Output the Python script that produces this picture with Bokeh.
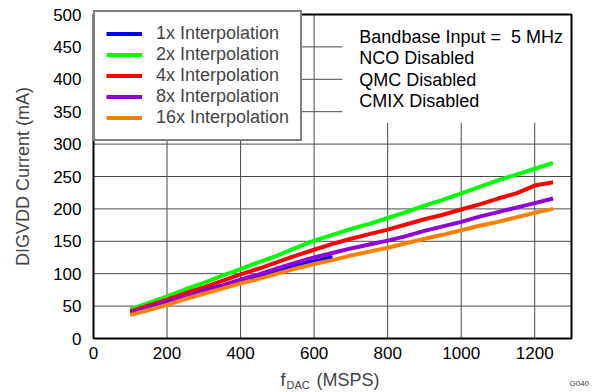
import math
from bokeh.plotting import figure
from bokeh.models import Label, Legend, LegendItem, Range1d
from bokeh.core.properties import value
from bokeh.embed import file_html
from bokeh.resources import INLINE

# ---- data ----
freq = [100, 150, 200, 250, 300, 350, 400, 450, 500, 550, 600, 650, 700, 750,
        800, 850, 900, 950, 1000, 1050, 1100, 1150, 1200, 1250]
freq_1x = [100, 150, 200, 250, 300, 350, 400, 450, 500, 550, 600, 650]
cur_1x = [40, 48, 56, 64, 72, 80, 89, 97, 105, 112, 119, 126]
cur_2x = [45, 55, 65, 76, 86, 97, 107, 118, 128, 140, 151, 160, 169, 177,
          186, 195, 205, 214, 224, 234, 244, 253, 262, 271]
cur_4x = [42, 51, 60, 70, 79, 89, 99, 108, 118, 128, 137, 146, 154, 161,
          168, 176, 184, 191, 199, 207, 216, 224, 236, 241]
cur_8x = [40, 48, 57, 65, 74, 82, 91, 99, 108, 117, 125, 132, 139, 145,
          151, 158, 166, 173, 180, 188, 195, 202, 209, 216]
cur_16x = [36, 44, 52, 61, 69, 77, 85, 92, 100, 108, 115, 121, 128, 134,
           140, 147, 154, 160, 167, 174, 180, 187, 194, 200]
series_names = ["1x Interpolation", "2x Interpolation", "4x Interpolation",
                "8x Interpolation", "16x Interpolation"]
series_colors = ["#0000FF", "#00FF00", "#FF0000", "#8E00D6", "#FF8000"]
x_ticks = [0, 200, 400, 600, 800, 1000, 1200]
y_ticks = [0, 50, 100, 150, 200, 250, 300, 350, 400, 450, 500]
x_tick_labels = [str(t) for t in x_ticks]
y_tick_labels = [str(t) for t in y_ticks]
notes = ["Bandbase Input =\u00a0 5 MHz", "NCO Disabled", "QMC Disabled", "CMIX Disabled"]
x_max, y_max = 1300, 500

# ---- layout (pixels) ----
W, H = 597, 392
FL, FR, FT, FB = 93, 571, 14, 338      # plotting box inside the canvas
FONT = "Liberation Sans"
FS = "18px"
TFS = "17px"
kx = (FR - FL) / x_max
ky = (FB - FT) / y_max

p = figure(width=W, height=H, output_backend="svg", toolbar_location=None,
           x_axis_location=None, y_axis_location=None,
           x_range=Range1d(-FL / kx, x_max + (W - FR) / kx),
           y_range=Range1d(-(H - FB) / ky, y_max + FT / ky),
           min_border=0)
p.outline_line_color = None
p.background_fill_color = "white"
p.border_fill_color = "white"
p.grid.visible = False

# grid lines at tick values
p.segment(x0=x_ticks, y0=[0] * len(x_ticks), x1=x_ticks, y1=[y_max] * len(x_ticks),
          line_color="#4a4a4a", line_width=1)
p.segment(x0=[0] * len(y_ticks), y0=y_ticks, x1=[x_max] * len(y_ticks), y1=y_ticks,
          line_color="#4a4a4a", line_width=1)

# white note box covering the grid
p.quad(left=[677], right=[x_max], bottom=[333], top=[y_max],
       fill_color="white", line_color=None)

xs = [freq_1x, freq, freq, freq, freq]
ys = [cur_1x, cur_2x, cur_4x, cur_8x, cur_16x]
renderers = []
for xv, yv, c in zip(xs, ys, series_colors):
    r = p.line(xv, yv, line_color=c, line_width=4)
    renderers.append(r)

# plot box outline
p.quad(left=[0], right=[x_max], bottom=[0], top=[y_max],
       fill_color=None, line_color="black", line_width=2)

# tick labels
p.text(x=x_ticks, y=[-(352 - FB) / ky] * len(x_ticks), text=x_tick_labels,
       text_font=value(FONT), text_font_size=TFS, text_align="center",
       text_baseline="middle", text_color="black")
p.text(x=[-(FL - 81) / kx] * len(y_ticks), y=y_ticks, text=y_tick_labels,
       text_font=value(FONT), text_font_size=TFS, text_align="right",
       text_baseline="middle", text_color="black")

# legend
PAD, ROW = 11, 21
LH = 2 * PAD + ROW * len(series_names)
legend = Legend(items=[LegendItem(label=n, renderers=[r]) for n, r in zip(series_names, renderers)],
                location=(FL, H - FT - LH), margin=0, padding=PAD, spacing=0,
                glyph_width=36, glyph_height=ROW, label_height=ROW, label_standoff=14,
                label_text_font=FONT, label_text_font_size=FS,
                border_line_color="black", border_line_width=2,
                background_fill_alpha=1)
p.add_layout(legend)

for i, t in enumerate(notes):
    p.add_layout(Label(x=723, y=466 - 33.2 * i, text=t, text_font=FONT,
                       text_font_size=FS, text_baseline="middle", text_color="black"))

# axis titles
p.add_layout(Label(x=22, y=H - (FT + FB) / 2, x_units="screen", y_units="screen",
                   text="DIGVDD Current (mA)", angle=math.pi / 2, text_font=FONT,
                   text_font_size=FS, text_align="center", text_baseline="middle"))
p.add_layout(Label(x=280, y=H - 379, x_units="screen", y_units="screen", text="f",
                   text_font=FONT, text_font_size=FS, text_baseline="middle"))
p.add_layout(Label(x=286, y=H - 384, x_units="screen", y_units="screen", text="DAC",
                   text_font=FONT, text_font_size="11px", text_baseline="middle"))
p.add_layout(Label(x=316, y=H - 379, x_units="screen", y_units="screen", text="(MSPS)",
                   text_font=FONT, text_font_size=FS, text_baseline="middle"))
p.add_layout(Label(x=569, y=H - 383, x_units="screen", y_units="screen", text="G040",
                   text_font=FONT, text_font_size="8px", text_baseline="middle"))

open("out.html", "w").write(file_html(p, INLINE))
